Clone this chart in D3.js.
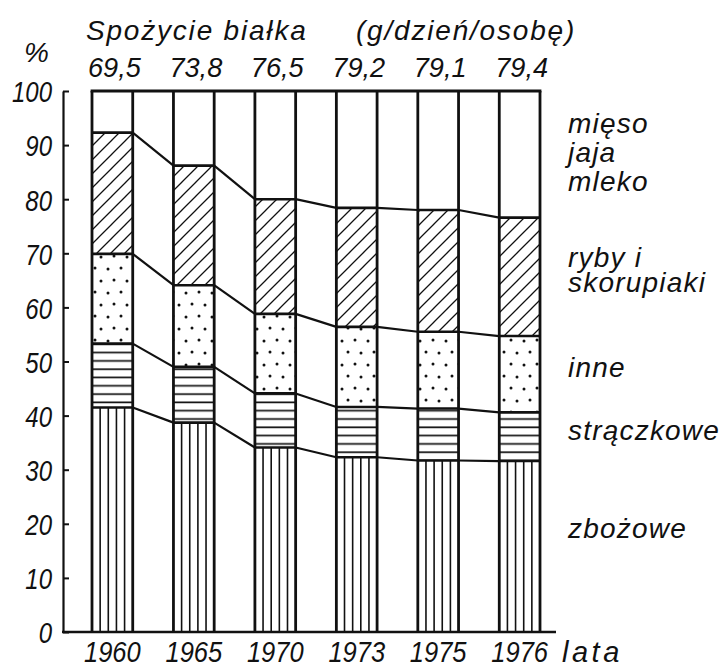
<!DOCTYPE html>
<html><head><meta charset="utf-8">
<script src="https://cdn.jsdelivr.net/npm/d3@7"></script>
<style>
html,body{margin:0;padding:0;background:#fff;}
svg{display:block;}
text{font-family:"Liberation Sans",Arial,sans-serif;font-style:italic;fill:#111;}
</style></head>
<body>
<svg id="chart" width="725" height="668"></svg>
<script>
const years = ["1960","1965","1970","1973","1975","1976"];
const protein = ["69,5","73,8","76,5","79,2","79,1","79,4"];
const zbozowe = [41.5, 38.7, 34.1, 32.3, 31.7, 31.6];
const straczkowe = [11.8, 10.3, 10.0, 9.3, 9.6, 9.0];
const inne = [16.6, 15.1, 14.7, 14.8, 14.2, 14.1];
const ryby = [22.4, 22.1, 21.2, 22.0, 22.5, 21.9];
const mieso = [7.7, 13.8, 20.0, 21.6, 22.0, 23.4];
const yTicks = [0,10,20,30,40,50,60,70,80,90,100];
const seriesKeys = ["zbozowe","straczkowe","inne","ryby","mieso"];
const seriesLabels = [
  {key:"mieso", lines:["mięso","jaja","mleko"], base:[133,162,191]},
  {key:"ryby", lines:["ryby i","skorupiaki"], base:[267,292]},
  {key:"inne", lines:["inne"], base:[377]},
  {key:"straczkowe", lines:["strączkowe"], base:[440]},
  {key:"zbozowe", lines:["zbożowe"], base:[538]}
];

const table = years.map((yr,i)=>({year:yr, zbozowe:zbozowe[i], straczkowe:straczkowe[i], inne:inne[i], ryby:ryby[i], mieso:mieso[i]}));
const stacked = d3.stack().keys(seriesKeys)(table);

const svg = d3.select("#chart");
const ink = "#111";

const x = d3.scaleBand().domain(years).range([92, 540]).paddingInner(0.5).paddingOuter(0);
const y = d3.scaleLinear().domain([0,100]).range([632, 91]);
const bw = x.bandwidth();

// patterns
const defs = svg.append("defs");
const pH = defs.append("pattern").attr("id","pH").attr("patternUnits","userSpaceOnUse").attr("width",10).attr("height",8.3);
pH.append("line").attr("x1",0).attr("x2",10).attr("y1",4).attr("y2",4).attr("stroke",ink).attr("stroke-width",1.7);
const pD = defs.append("pattern").attr("id","pD").attr("patternUnits","userSpaceOnUse").attr("width",26).attr("height",24);
[[4,5],[17,4],[10,16],[23,17]].forEach(([cx,cy])=>pD.append("circle").attr("cx",cx).attr("cy",cy).attr("r",1.5).attr("fill",ink));
const pS = defs.append("pattern").attr("id","pS").attr("patternUnits","userSpaceOnUse").attr("width",14).attr("height",14);
pS.append("path").attr("d","M0,14 L14,0 M-3.5,3.5 L3.5,-3.5 M10.5,17.5 L17.5,10.5").attr("stroke",ink).attr("stroke-width",1.3);

const fills = {zbozowe:"#fff", straczkowe:"url(#pH)", inne:"url(#pD)", ryby:"url(#pS)", mieso:"#fff"};

// segments
const g = svg.append("g");
stacked.forEach(s=>{
  g.selectAll(null).data(s).join("rect")
    .attr("x",d=>x(d.data.year)).attr("width",bw)
    .attr("y",d=>y(d[1])).attr("height",d=>y(d[0])-y(d[1]))
    .attr("fill",fills[s.key]);
});
// vertical lines in zbozowe
stacked[0].forEach(d=>{
  for(let k=1;k<=4;k++){
    const xx = x(d.data.year)+k*bw/5;
    g.append("line").attr("x1",xx).attr("x2",xx).attr("y1",y(0)).attr("y2",y(d[1])).attr("stroke",ink).attr("stroke-width",1.6);
  }
});
// boundary lines within bars and connectors
stacked.slice(0,4).forEach(s=>{
  s.forEach((d,i)=>{
    const x0 = x(d.data.year);
    g.append("line").attr("x1",x0).attr("x2",x0+bw).attr("y1",y(d[1])).attr("y2",y(d[1])).attr("stroke",ink).attr("stroke-width",2.6);
    if(i<s.length-1){
      const n = s[i+1];
      g.append("line").attr("x1",x0+bw).attr("x2",x(n.data.year)).attr("y1",y(d[1])).attr("y2",y(n[1])).attr("stroke",ink).attr("stroke-width",2.2);
    }
  });
});
// bar edges full height
years.forEach(yr=>{
  [x(yr), x(yr)+bw].forEach(xx=>{
    g.append("line").attr("x1",xx).attr("x2",xx).attr("y1",y(0)).attr("y2",y(100)).attr("stroke",ink).attr("stroke-width",2.8);
  });
});
// top frame
g.append("line").attr("x1",x(years[0])-1.4).attr("x2",x(years[years.length-1])+bw+1.4).attr("y1",y(100)).attr("y2",y(100)).attr("stroke",ink).attr("stroke-width",3.2);
// baseline
g.append("line").attr("x1",62).attr("x2",556).attr("y1",y(0)).attr("y2",y(0)).attr("stroke",ink).attr("stroke-width",2.6);

// y axis
const sxTick = 0.8;
const yAxis = svg.append("g").attr("transform","translate(63,0)")
  .call(d3.axisLeft(y).tickValues(yTicks).tickSizeInner(-6).tickSizeOuter(0).tickPadding(10));
yAxis.select(".domain").attr("stroke",ink).attr("stroke-width",2.2);
yAxis.selectAll(".tick line").attr("stroke",ink).attr("stroke-width",2);
yAxis.selectAll(".tick text").attr("font-size",30).attr("fill",ink).attr("dy","0.36em")
  .attr("font-family",null).attr("x",-11/sxTick).attr("transform",`scale(${sxTick},1)`);

// helper for horizontally condensed text
function sText(px, py, str, size, sx, anchor, ls){
  return svg.append("g").attr("transform",`translate(${px},${py}) scale(${sx},1)`)
    .append("text").attr("text-anchor",anchor||"start").attr("font-size",size)
    .attr("letter-spacing",ls||0).text(str);
}

// year labels
years.forEach(yr=>sText(x(yr)+bw/2, 662, yr, 30, 0.85, "middle"));
svg.append("text").attr("x",562).attr("y",662).attr("font-size",29).attr("letter-spacing",3.5).text("lata");

// protein values
protein.forEach((p,i)=>sText(x(years[i])+bw/2+2, 77, p, 28, 0.97, "middle"));
// title
svg.append("text").attr("x",86).attr("y",40).attr("font-size",28).attr("letter-spacing",1.8).text("Spożycie białka");
svg.append("text").attr("x",356).attr("y",40).attr("font-size",28).attr("letter-spacing",1.8).text("(g/dzień/osobę)");
svg.append("text").attr("x",24).attr("y",62).attr("font-size",28).text("%");

// series labels
seriesLabels.forEach(l=>{
  l.lines.forEach((t,j)=>{
    svg.append("text").attr("x",568).attr("y",l.base[j]).attr("font-size",28).attr("letter-spacing",1.2).text(t);
  });
});
</script>
</body></html>
